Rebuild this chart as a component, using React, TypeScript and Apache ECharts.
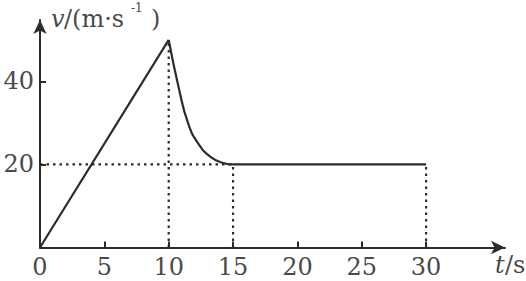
import React, { useEffect, useRef } from "react";
import * as echarts from "echarts";

// Tick labels / values
const xLabelValues = [0, 5, 10, 15, 20, 25, 30];
const xTickValues = [5, 10, 15, 20, 25, 30];
const yLabelValues = [20, 40];
const yTickValues = [20, 40];

// Series data: [t (s), v (m/s)]
const riseData = [
  [0, 0],
  [10, 50],
];
const decayData = [
  [10, 50],
  [10.8, 38.2],
  [11.5, 30.0],
  [12.3, 25.0],
  [13.3, 21.7],
  [14.3, 20.3],
  [15, 20],
];
const flatData = [
  [15, 20],
  [30, 20],
];

// Dotted guide lines
const guideH20 = [
  [0, 20],
  [15, 20],
];
const guideV10 = [
  [10, 0],
  [10, 50],
];
const guideV15 = [
  [15, 0],
  [15, 20],
];
const guideV30 = [
  [30, 0],
  [30, 20],
];

const INK = "#2b2b2b";
const TEXT = "#4a4a4a";
const FONT = "DejaVu Serif";

export default function App() {
  const ref = useRef<HTMLDivElement>(null);

  useEffect(() => {
    if (!ref.current) return;
    const chart = echarts.init(ref.current, null, { renderer: "svg" });

    const solid = (data: number[][], smooth: number | boolean = false) => ({
      type: "line",
      data,
      smooth,
      symbol: "none",
      lineStyle: { color: INK, width: 2.2 },
      z: 3,
    });
    const dotted = (data: number[][]) => ({
      type: "line",
      data,
      symbol: "none",
      lineStyle: { color: INK, width: 2.2, type: [2.5, 4] },
      z: 2,
    });

    chart.setOption({
      animation: false,
      backgroundColor: "#fff",
      grid: { left: 40, right: 21, top: 20, bottom: 33.5 },
      xAxis: {
        type: "value",
        min: 0,
        max: 36.13,
        axisLine: {
          lineStyle: { color: INK, width: 2 },
          symbol: ["none", "arrow"],
          symbolSize: [10, 14],
        },
        axisTick: {
          show: true,
          inside: true,
          length: 6,
          customValues: xTickValues,
          lineStyle: { color: INK, width: 2 },
        },
        axisLabel: {
          customValues: xLabelValues,
          margin: 7,
          fontFamily: FONT,
          fontSize: 24,
          color: TEXT,
        },
        splitLine: { show: false },
      },
      yAxis: {
        type: "value",
        min: 0,
        max: 54.8,
        axisLine: {
          show: true,
          lineStyle: { color: INK, width: 2 },
          symbol: ["none", "arrow"],
          symbolSize: [10, 14],
        },
        axisTick: {
          show: true,
          inside: true,
          length: 6,
          customValues: yTickValues,
          lineStyle: { color: INK, width: 2 },
        },
        axisLabel: {
          customValues: yLabelValues,
          margin: 6,
          fontFamily: FONT,
          fontSize: 24,
          color: TEXT,
        },
        splitLine: { show: false },
      },
      graphic: [
        {
          type: "text",
          left: 51,
          top: 7,
          style: { text: "v", font: `italic 24px ${FONT}`, fill: TEXT },
        },
        {
          type: "text",
          left: 64,
          top: 7,
          style: { text: "/(m·s", font: `24px ${FONT}`, fill: TEXT },
        },
        {
          type: "text",
          left: 131,
          top: 2,
          style: { text: "-1", font: `12px ${FONT}`, fill: TEXT },
        },
        {
          type: "text",
          left: 151,
          top: 7,
          style: { text: ")", font: `24px ${FONT}`, fill: TEXT },
        },
        {
          type: "text",
          left: 495,
          top: 253,
          style: { text: "t", font: `italic 24px ${FONT}`, fill: TEXT },
        },
        {
          type: "text",
          left: 505,
          top: 253,
          style: { text: "/s", font: `24px ${FONT}`, fill: TEXT },
        },
      ],
      series: [
        dotted(guideH20),
        dotted(guideV10),
        dotted(guideV15),
        dotted(guideV30),
        solid(riseData),
        solid(decayData, 0.5),
        solid(flatData),
      ],
    });

    return () => chart.dispose();
  }, []);

  return (
    <div
      ref={ref}
      style={{ position: "fixed", left: 0, top: 0, width: 526, height: 281 }}
    />
  );
}
